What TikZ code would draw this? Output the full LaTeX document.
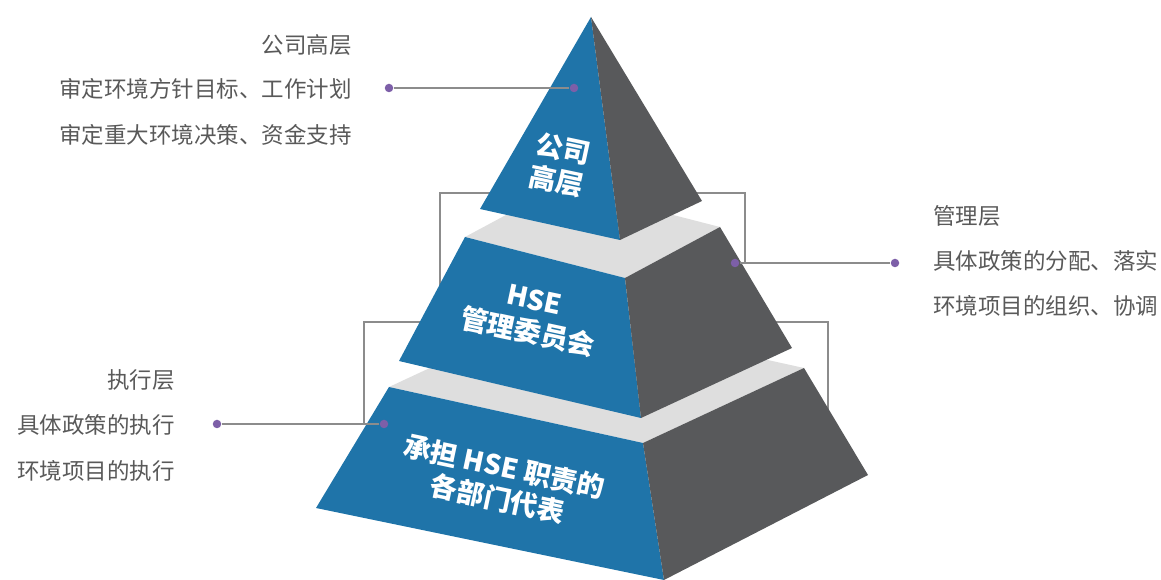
\documentclass[tikz,border=0pt]{standalone}
\usepackage{fontspec}
\setmainfont{Noto Sans CJK SC}
\definecolor{pyrblue}{HTML}{1F74A9}
\definecolor{pyrgray}{HTML}{58595B}
\definecolor{bandgray}{HTML}{DEDEDE}
\definecolor{dotpurple}{HTML}{7D5FA8}
\definecolor{linegray}{HTML}{8C8C8C}
\definecolor{textgray}{HTML}{595959}

\begin{document}
\begin{tikzpicture}[x=0.02cm, y=-0.02cm,
  front/.style={fill=pyrblue},
  side/.style={fill=pyrgray},
  band/.style={fill=bandgray},
  lead/.style={draw=linegray, line width=0.8pt},
  dot/.style={circle, fill=dotpurple, inner sep=0pt, minimum size=0.17cm},
  note/.style={text=textgray, inner sep=0pt, font=\fontsize{12.8}{15}\selectfont},
  tier/.style={text=white, align=center, rotate=-12, inner sep=0pt, font=\fontsize{15.5}{18.5}\selectfont\bfseries}]

\useasboundingbox (0,0) rectangle (1161,580);

% corners of the three levels
\coordinate (apex) at (591,17);
\coordinate (tl) at (480,209);
\coordinate (tm) at (620,240);
\coordinate (tr) at (702,201);

\coordinate (ml) at (465,237);
\coordinate (mf) at (625,278);
\coordinate (mr) at (720,227);
\coordinate (mk) at (560,186);
\coordinate (mbl) at (399,361);
\coordinate (mbm) at (641,418);
\coordinate (mbr) at (792,348);

\coordinate (bl) at (389,387);
\coordinate (bf) at (643,443);
\coordinate (br) at (804,368);
\coordinate (bk) at (550,312);
\coordinate (bbl) at (316,508);
\coordinate (bbm) at (664,580);
\coordinate (bbr) at (868,475);

% brackets behind the pyramid
\coordinate (ka) at (500,193);
\coordinate (kb) at (440,193);
\coordinate (kc) at (440,300);
\draw [lead] (ka) -- (kb) -- (kc);

\coordinate (kd) at (680,193);
\coordinate (ke) at (745,193);
\coordinate (kf) at (745,263);
\draw [lead] (kd) -- (ke) -- (kf);

\coordinate (kg) at (430,322);
\coordinate (kh) at (364,322);
\coordinate (ki) at (364,424);
\draw [lead] (kg) -- (kh) -- (ki);

\coordinate (kj) at (770,322);
\coordinate (kk) at (828,322);
\coordinate (kl) at (828,430);
\draw [lead] (kj) -- (kk) -- (kl);

% bottom level
\fill [band] (bl) -- (bk) -- (br) -- (bf) -- cycle;
\fill [front] (bl) -- (bf) -- (bbm) -- (bbl) -- cycle;
\fill [side] (bf) -- (br) -- (bbr) -- (bbm) -- cycle;

% middle level
\fill [band] (ml) -- (mk) -- (mr) -- (mf) -- cycle;
\fill [front] (ml) -- (mf) -- (mbm) -- (mbl) -- cycle;
\fill [side] (mf) -- (mr) -- (mbr) -- (mbm) -- cycle;

% top level
\fill [front] (apex) -- (tm) -- (tl) -- cycle;
\fill [side] (apex) -- (tr) -- (tm) -- cycle;

\node (top) [tier] at (560,165) {公司\\高层};
\node (mid) [tier] at (531,317) {HSE\\管理委员会};
\node (low) [tier] at (501,483) {承担 HSE 职责的\\各部门代表};

% callouts
\node (d1) [dot] at (574,88) {};
\node (d1e) [dot] at (389,88) {};
\draw [lead] (d1) -- (d1e);

\node (d2) [dot] at (735,263) {};
\node (d2e) [dot] at (895,263) {};
\draw [lead] (d2) -- (d2e);

\node (d3) [dot] at (384,424) {};
\node (d3e) [dot] at (217,424) {};
\draw [lead] (d3) -- (d3e);

% texts
\node (t1) [note, anchor=east] at (352,45) {公司高层};
\node (t2) [note, anchor=east] at (352,89) {审定环境方针目标、工作计划};
\node (t3) [note, anchor=east] at (352,135) {审定重大环境决策、资金支持};

\node (r1) [note, anchor=west] at (933,216) {管理层};
\node (r2) [note, anchor=west] at (933,261) {具体政策的分配、落实};
\node (r3) [note, anchor=west] at (933,306) {环境项目的组织、协调};

\node (l1) [note, anchor=east] at (175,380) {执行层};
\node (l2) [note, anchor=east] at (175,425) {具体政策的执行};
\node (l3) [note, anchor=east] at (175,471) {环境项目的执行};

\end{tikzpicture}
\end{document}
